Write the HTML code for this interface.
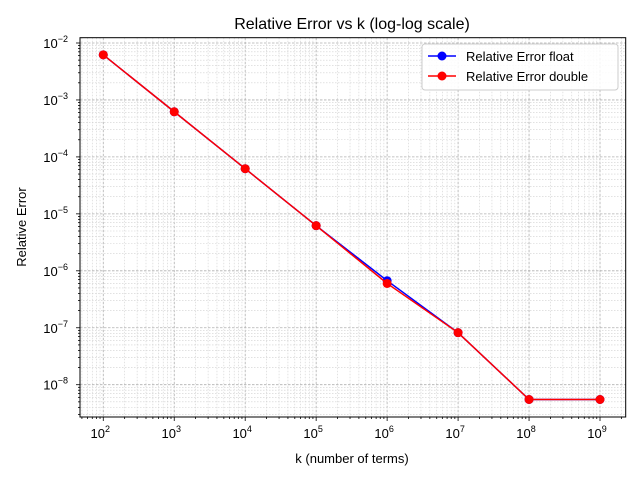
<!DOCTYPE html>
<html><head><meta charset="utf-8"><style>
body{margin:0;background:#fff;}
svg{display:block;font-family:"Liberation Sans","DejaVu Sans",sans-serif;}
</style></head><body>
<svg id="chart" width="640" height="480">
<rect x="0" y="0" width="640" height="480" fill="#fff"/>
<g id="grid"></g>
<g id="axes"></g>
<g id="series"></g>
<rect x="80" y="37.7" width="545.7" height="379.3" fill="none" stroke="#000" stroke-width="1"/>
<text x="352" y="29" font-size="16" text-anchor="middle">Relative Error vs k (log-log scale)</text>
<text x="352" y="463" font-size="13" text-anchor="middle">k (number of terms)</text>
<text x="26" y="227" font-size="13" text-anchor="middle" transform="rotate(-90 26 227)">Relative Error</text>
<g>
<rect x="422" y="44" width="196" height="46" rx="3" fill="#fff" fill-opacity="0.85" stroke="#ccc"/>
<g>
<line x1="428" y1="56" x2="456" y2="56" stroke="#0000ff" stroke-width="1.5"/>
<circle cx="442" cy="56" r="4.5" fill="#0000ff"/>
<text x="466" y="61" font-size="13">Relative Error float</text>
</g>
<g>
<line x1="428" y1="76" x2="456" y2="76" stroke="#ff0000" stroke-width="1.5"/>
<circle cx="442" cy="76" r="4.5" fill="#ff0000"/>
<text x="466" y="81" font-size="13">Relative Error double</text>
</g>
</g>
</svg>
<script>
const categories = [1e2, 1e3, 1e4, 1e5, 1e6, 1e7, 1e8, 1e9];
const floatValues = [6.2e-3, 6.2e-4, 6.2e-5, 6.2e-6, 6.7e-7, 8.2e-8, 5.5e-9, 5.5e-9];
const doubleValues = [6.2e-3, 6.2e-4, 6.2e-5, 6.2e-6, 6.0e-7, 8.2e-8, 5.5e-9, 5.5e-9];
const xTickExps = [2, 3, 4, 5, 6, 7, 8, 9];
const yTickExps = [-8, -7, -6, -5, -4, -3, -2];

const L = 80, R = 625.7, T = 37.7, B = 417;
const xMin = 1.672, xMax = 9.362, yMin = -8.567, yMax = -1.907;
const NS = 'http://www.w3.org/2000/svg';
function sx(v){ return L + (Math.log10(v) - xMin) / (xMax - xMin) * (R - L); }
function sy(v){ return B - (Math.log10(v) - yMin) / (yMax - yMin) * (B - T); }
function mk(tag, attrs, parent){
  const e = document.createElementNS(NS, tag);
  for (const k in attrs) e.setAttribute(k, attrs[k]);
  parent.appendChild(e); return e;
}
const grid = document.getElementById('grid');
const axes = document.getElementById('axes');
const series = document.getElementById('series');

for (let d = 1; d <= 9; d++) {
  for (let m = 1; m <= 9; m++) {
    const v = m * Math.pow(10, d);
    const x = sx(v);
    if (x < L || x > R) continue;
    const gl = mk('line', {x1:x, x2:x, y1:T, y2:B, stroke: m===1?'#b0b0b0':'#d0d0d0', 'stroke-width': m===1?0.8:0.6, 'stroke-dasharray': m===1?'2.5,1.5':'1.5,1.5'}, grid);
    
    
    mk('line', {x1:x, x2:x, y1:B, y2:B + (m===1?4:2), stroke:'#000', 'stroke-width':0.8}, axes);
  }
}
for (let d = -9; d <= -2; d++) {
  for (let m = 1; m <= 9; m++) {
    const v = m * Math.pow(10, d);
    const y = sy(v);
    if (y < T || y > B) continue;
    const gl = mk('line', {x1:L, x2:R, y1:y, y2:y, stroke: m===1?'#b0b0b0':'#d0d0d0', 'stroke-width': m===1?0.8:0.6, 'stroke-dasharray': m===1?'2.5,1.5':'1.5,1.5'}, grid);
    
    
    mk('line', {x1:L - (m===1?4:2), x2:L, y1:y, y2:y, stroke:'#000', 'stroke-width':0.8}, axes);
  }
}
xTickExps.forEach(function(e){
  const x = sx(Math.pow(10, e));
  const t = mk('text', {x:x - 3, y:438, 'font-size':13, 'text-anchor':'middle'}, axes);
  
  
  t.textContent = '10';
  const s = mk('tspan', {dy:-6, 'font-size':9}, t);
  s.textContent = String(e);
});
yTickExps.forEach(function(e){
  const y = sy(Math.pow(10, e));
  const t = mk('text', {x:68, y:y + 5, 'font-size':13, 'text-anchor':'end'}, axes);
  
  
  t.textContent = '10';
  const s = mk('tspan', {dy:-6, 'font-size':9}, t);
  s.textContent = '\u2212' + String(-e);
});

function drawSeries(vals, color, name){
  const g = mk('g', {}, series);
  
  
  const pts = categories.map(function(c, i){ return sx(c) + ',' + sy(vals[i]); }).join(' ');
  mk('polyline', {points:pts, fill:'none', stroke:color, 'stroke-width':1.5}, g);
  categories.forEach(function(c, i){
    const p = mk('circle', {cx:sx(c), cy:sy(vals[i]), r:4.5, fill:color}, g);
    
    
  });
}
drawSeries(floatValues, '#0000ff', 'series-float');
drawSeries(doubleValues, '#ff0000', 'series-double');
</script>
</body></html>
